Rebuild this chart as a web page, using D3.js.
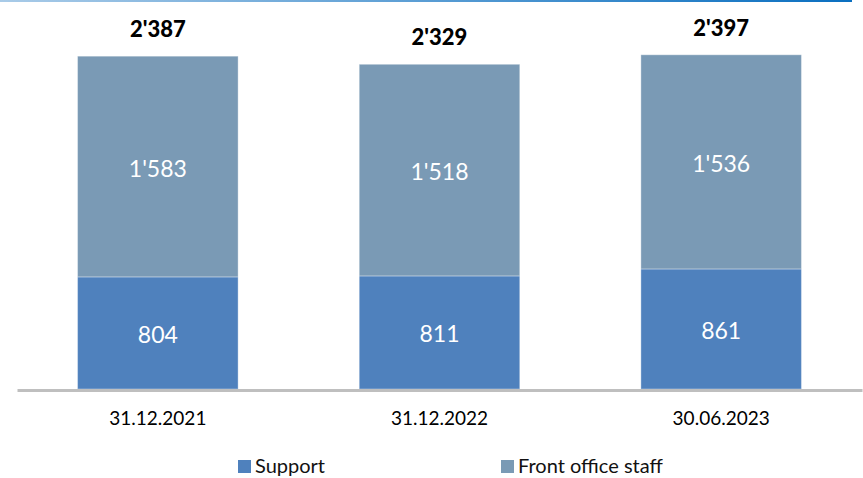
<!DOCTYPE html>
<html>
<head>
<meta charset="utf-8">
<script src="https://cdn.jsdelivr.net/npm/d3@7"></script>
<style>
  body { margin: 0; background: #fff; }
  text { font-family: Lato, "Noto Sans", sans-serif; }
</style>
</head>
<body>
<script>
var categories = ["31.12.2021", "31.12.2022", "30.06.2023"];
var support = [804, 811, 861];
var frontOffice = [1583, 1518, 1536];
var seriesNames = ["Support", "Front office staff"];
var colors = ["#4f81bd", "#7a9ab5"];

var width = 863, height = 478;

var fmt = function(v){
  var s = String(v);
  return s.length > 3 ? s.slice(0, s.length - 3) + "'" + s.slice(-3) : s;
};

var svg = d3.select("body").append("svg")
    .attr("width", width)
    .attr("height", height);

// thin gradient rule at the top
var grad = svg.append("defs").append("linearGradient").attr("id", "topline");
grad.append("stop").attr("offset", "0%").attr("stop-color", "#a9cbe8");
grad.append("stop").attr("offset", "100%").attr("stop-color", "#0a6fc0");
svg.append("rect").attr("x", 0).attr("y", 0).attr("width", 852).attr("height", 2)
    .attr("fill", "url(#topline)");

var x = d3.scaleBand().domain(categories).range([17, 862])
    .paddingInner(0.43).paddingOuter(0.215);
var y = d3.scaleLinear().domain([0, 2790]).range([389, 0]);

var rows = categories.map(function(c, i){
  return {cat: c, support: support[i], front: frontOffice[i]};
});
var stacked = d3.stack().keys(["support", "front"])(rows);

var layer = svg.selectAll("g.layer").data(stacked).enter().append("g")
    .attr("class", "layer")
    .attr("fill", function(d, i){ return colors[i]; });

layer.selectAll("rect").data(function(d){ return d; }).enter().append("rect")
    .attr("x", function(d){ return x(d.data.cat); })
    .attr("width", x.bandwidth())
    .attr("y", function(d){ return y(d[1]); })
    .attr("height", function(d){ return y(d[0]) - y(d[1]); })
    .attr("stroke", "#ffffff")
    .attr("stroke-opacity", 0.35)
    .attr("stroke-width", 1);

layer.selectAll("text").data(function(d){ return d; }).enter().append("text")
    .attr("x", function(d){ return x(d.data.cat) + x.bandwidth() / 2; })
    .attr("y", function(d){ return (y(d[0]) + y(d[1])) / 2 + 10; })
    .attr("text-anchor", "middle")
    .attr("fill", "#fff")
    .style("font-size", "23px")
    .text(function(d){ return fmt(d[1] - d[0]); });

// totals
svg.selectAll("text.total").data(rows).enter().append("text")
    .attr("class", "total")
    .attr("x", function(d){ return x(d.cat) + x.bandwidth() / 2; })
    .attr("y", function(d){ return y(d.support + d.front) - 19; })
    .attr("text-anchor", "middle")
    .style("font-size", "22px")
    .style("font-weight", "900")
    .text(function(d){ return fmt(d.support + d.front); });

// axis
var axis = svg.append("g").attr("transform", "translate(0,390)")
    .call(d3.axisBottom(x).tickSize(0).tickPadding(22));
axis.select(".domain").attr("stroke", "#bfbfbf").attr("stroke-width", 3);
axis.selectAll(".tick text").attr("fill", "#000")
    .style("font-size", "19px").style("font-family", "Lato, sans-serif");

// legend
var legendX = [238, 501];
var lg = svg.selectAll("g.legend").data(seriesNames).enter().append("g")
    .attr("class", "legend")
    .attr("transform", function(d, i){ return "translate(" + legendX[i] + ",460)"; });
lg.append("rect").attr("width", 13).attr("height", 13)
    .attr("fill", function(d, i){ return colors[i]; });
lg.append("text").attr("x", 17).attr("y", 13)
    .style("font-size", "20px")
    .attr("fill", "#111")
    .text(function(d){ return d; });
</script>
</body>
</html>
